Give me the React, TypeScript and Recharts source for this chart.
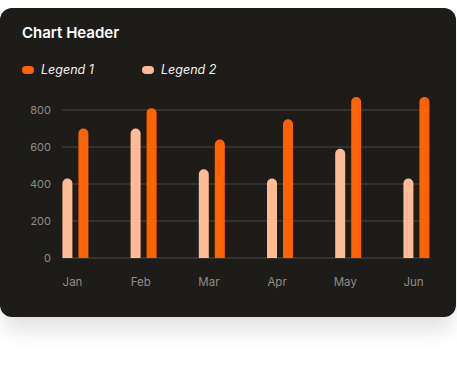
import { BarChart, Bar, XAxis, YAxis, CartesianGrid } from "recharts";

const MONTHS = ["Jan", "Feb", "Mar", "Apr", "May", "Jun"];
const LEGEND_1 = [700, 810, 640, 750, 870, 870];
const LEGEND_2 = [430, 700, 480, 430, 590, 430];
const Y_TICKS = [0, 200, 400, 600, 800];

const ORANGE = "#ff6200";
const PEACH = "#ffbb95";
const FONT = "Inter, 'Noto Sans', sans-serif";

const data = MONTHS.map((m, i) => ({ month: m, l1: LEGEND_1[i], l2: LEGEND_2[i] }));

function LegendItem({ color, label }: { color: string; label: string }) {
  return (
    <div style={{ display: "flex", alignItems: "center", gap: 7, width: 120 }}>
      <span style={{ width: 12, height: 8, borderRadius: 4, background: color, display: "inline-block" }} />
      <span style={{ fontStyle: "italic", fontSize: 12.5, color: "#f2f0ee" }}>{label}</span>
    </div>
  );
}

export default function App() {
  return (
    <div style={{ position: "absolute", left: 0, top: 0, width: 457, height: 374, background: "#fff", fontFamily: FONT, overflow: "hidden" }}>
      <div
        style={{
          position: "absolute",
          left: 0,
          top: 8,
          width: 456,
          height: 309,
          background: "#1e1c19",
          borderRadius: 12,
          boxShadow: "0 16px 22px -4px rgba(30,30,50,0.14)",
        }}
      />
      <div style={{ position: "absolute", left: 22, top: 23, fontSize: 15, fontWeight: 600, color: "#ffffff" }}>
        Chart Header
      </div>
      <div style={{ position: "absolute", left: 22, top: 62, display: "flex" }}>
        <LegendItem color={ORANGE} label="Legend 1" />
        <LegendItem color={PEACH} label="Legend 2" />
      </div>
      <div style={{ position: "absolute", left: 0, top: 0 }}>
        <BarChart
          width={457}
          height={320}
          data={data}
          margin={{ top: 91.5, right: 27, bottom: 0, left: 0 }}
          barSize={10}
          barGap={6}
        >
          <CartesianGrid vertical={false} horizontalValues={Y_TICKS} stroke="#4a4844" strokeWidth={1} />
          <XAxis
            dataKey="month"
            axisLine={false}
            tickLine={false}
            tickSize={0}
            tickMargin={20}
            height={62}
            padding={{ left: -20.6, right: -20.6 }}
            tick={{ fill: "#8f8c88", fontSize: 11.5, fontFamily: FONT, dx: -3 }}
          />
          <YAxis
            domain={[0, 900]}
            ticks={Y_TICKS}
            axisLine={false}
            tickLine={false}
            tickSize={0}
            tickMargin={11}
            width={62}
            tick={{ fill: "#8f8c88", fontSize: 11, fontFamily: FONT }}
          />
          <Bar dataKey="l2" fill={PEACH} radius={[5, 5, 0, 0]} isAnimationActive={false} />
          <Bar dataKey="l1" fill={ORANGE} radius={[5, 5, 0, 0]} isAnimationActive={false} />
        </BarChart>
      </div>
    </div>
  );
}
